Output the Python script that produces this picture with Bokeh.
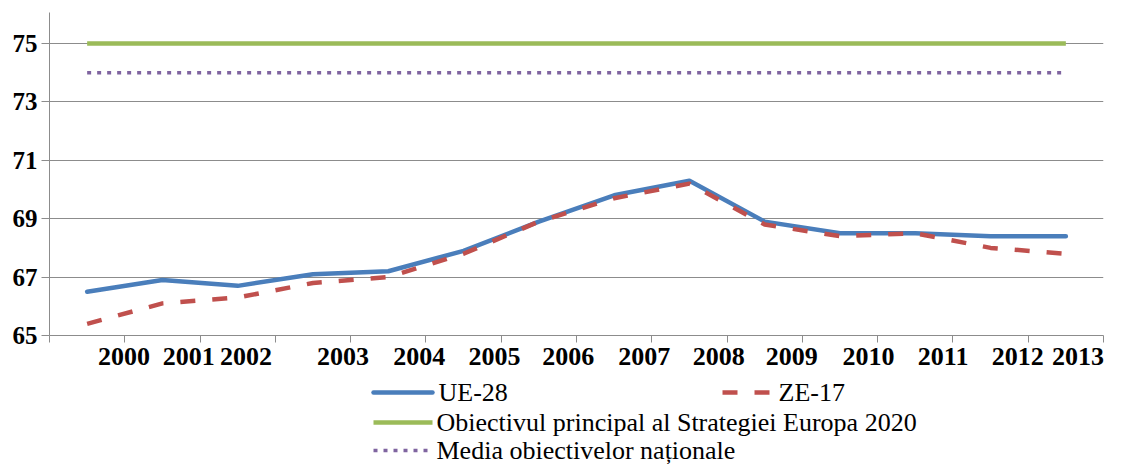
from bokeh.plotting import figure
from bokeh.layouts import column
from bokeh.models import Range1d, FixedTicker, LinearAxis
from bokeh.core.properties import value
from bokeh.embed import file_html
from bokeh.resources import INLINE

# ---- data ----
years = [2000, 2001, 2002, 2003, 2004, 2005, 2006, 2007, 2008, 2009, 2010, 2011, 2012, 2013]
ue28 = [66.5, 66.9, 66.7, 67.1, 67.2, 67.9, 68.9, 69.8, 70.3, 68.9, 68.5, 68.5, 68.4, 68.4]
ze17 = [65.4, 66.1, 66.3, 66.8, 67.0, 67.8, 68.9, 69.7, 70.2, 68.8, 68.4, 68.5, 68.0, 67.8]
obiectiv_2020 = [75, 75, 75, 75, 75, 75, 75, 75, 75, 75, 75, 75, 75, 75]
media_nationala = [74, 74, 74, 74, 74, 74, 74, 74, 74, 74, 74, 74, 74, 74]
y_ticks = [65, 67, 69, 71, 73, 75]
x_tick_labels = ["2000", "2001", "2002", "2003", "2004", "2005", "2006",
                 "2007", "2008", "2009", "2010", "2011", "2012", "2013"]
legend_labels = ["UE-28", "ZE-17",
                 "Obiectivul principal al Strategiei Europa 2020",
                 "Media obiectivelor naționale"]

# layout only: where the year labels sit along the category axis (as in the source)
x_label_pos = [0.99, 1.85, 2.61, 3.90, 4.91, 5.91, 6.89, 7.90, 8.89, 9.86,
               10.88, 11.87, 12.86, 13.66]

# category centres (each year occupies one slot between tick marks)
xs = [i + 0.5 for i in range(len(years))]

GRID = "#8c8c8c"
FONT = "Liberation Serif"
BLUE, RED, GREEN, PURPLE = "#4A7EBB", "#C0504D", "#9BBB59", "#7F64A0"
STYLE = {
    "blue": dict(line_color=BLUE, line_width=4.5, line_cap="round", line_join="round"),
    "red": dict(line_color=RED, line_width=4.5, line_dash="15 17", line_join="round"),
    "green": dict(line_color=GREEN, line_width=4.5),
    "purple": dict(line_color=PURPLE, line_width=3.5, line_dash="4 6"),
}

BL, BR = 49, 18          # left / right borders shared by both panels
H_MAIN = 378
p = figure(width=1121, height=H_MAIN, output_backend="svg", toolbar_location=None,
           x_range=Range1d(0, len(years)), y_range=Range1d(65, 76.06),
           x_axis_type=None,
           min_border_left=BL, min_border_right=BR, min_border_top=12,
           min_border_bottom=H_MAIN - 335)
p.outline_line_color = None

p.xgrid.visible = False
p.ygrid.ticker = FixedTicker(ticks=y_ticks)
p.ygrid.grid_line_color = GRID
p.ygrid.grid_line_width = 1

# y axis
p.yaxis.ticker = FixedTicker(ticks=y_ticks)
p.yaxis.axis_line_color = GRID
p.yaxis.major_tick_line_color = GRID
p.yaxis.minor_tick_line_color = None
p.yaxis.major_tick_in = 0
p.yaxis.major_tick_out = 8
p.yaxis.major_label_standoff = 4
p.yaxis.major_label_text_font = FONT
p.yaxis.major_label_text_font_style = "bold"
p.yaxis.major_label_text_font_size = "25px"
p.yaxis.major_label_text_color = "black"

# x axis: tick marks at category boundaries
tick_axis = LinearAxis(ticker=FixedTicker(ticks=list(range(len(years) + 1))),
                       axis_line_color=GRID, major_tick_line_color=GRID,
                       minor_tick_line_color=None, major_tick_in=0, major_tick_out=7,
                       major_label_standoff=0, major_label_text_font_size="1px",
                       major_label_text_alpha=0)
p.add_layout(tick_axis, "below")

# x axis: year labels
label_axis = LinearAxis(ticker=FixedTicker(ticks=x_label_pos),
                        major_label_overrides={pos: lab for pos, lab in zip(x_label_pos, x_tick_labels)},
                        axis_line_color=None, major_tick_line_color=None,
                        minor_tick_line_color=None, major_tick_in=0, major_tick_out=0,
                        major_label_standoff=5, major_label_text_font=FONT,
                        major_label_text_font_style="bold",
                        major_label_text_font_size="26px",
                        major_label_text_color="black")
p.add_layout(label_axis, "below")

# series
p.line(xs, obiectiv_2020, **STYLE["green"])
p.line(xs, media_nationala, **STYLE["purple"])
p.line(xs, ue28, **STYLE["blue"])
p.line(xs, ze17, **STYLE["red"])

# ---- legend panel: frame aligned with the chart frame, x in page pixels, y from top ----
LH = 465 - H_MAIN
lg = figure(width=1121, height=LH, output_backend="svg", toolbar_location=None,
            x_range=Range1d(BL, 1121 - BR), y_range=Range1d(LH, 0),
            x_axis_type=None, y_axis_type=None,
            min_border_left=BL, min_border_right=BR, min_border_top=0,
            min_border_bottom=0)
lg.outline_line_color = None
lg.xgrid.visible = False
lg.ygrid.visible = False

# (style key, sample x0, sample x1, text x, row y)
legend_layout = [
    ("blue", 373, 432, 438, 14),
    ("red", 722, 774, 778, 14),
    ("green", 373, 432, 436, 44),
    ("purple", 373, 431, 436, 72),
]
for (key, x0, x1, tx, ty), lab in zip(legend_layout, legend_labels):
    lg.line([x0, x1], [ty, ty], **STYLE[key])
    lg.text(x=[tx], y=[ty], text=[lab], text_font=value(FONT),
            text_font_size="26px", text_baseline="middle", text_align="left",
            text_color="black")

layout = column(p, lg, spacing=0)
open("out.html", "w").write(file_html(layout, INLINE))
